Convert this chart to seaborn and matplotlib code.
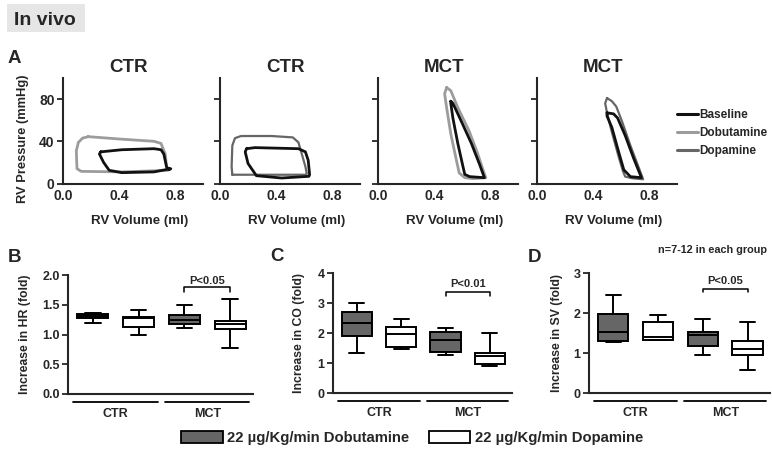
import numpy as np
import pandas as pd
import matplotlib
matplotlib.use("Agg")
import matplotlib.pyplot as plt
import seaborn as sns
from matplotlib.lines import Line2D
from matplotlib.patches import Patch, Rectangle

# Panel A: pressure-volume loops (volume ml, pressure mmHg)
ctr1_base_vol = [0.27, 0.42, 0.65, 0.70, 0.72, 0.74, 0.76, 0.77, 0.65, 0.42, 0.33, 0.29, 0.26]
ctr1_base_pres = [30, 32, 33, 32, 28, 15.6, 13.4, 14, 11, 10.3, 12.5, 20, 28]
ctr1_dobu_vol = [0.18, 0.42, 0.65, 0.70, 0.73, 0.74, 0.75, 0.42, 0.13, 0.10, 0.095, 0.11, 0.14]
ctr1_dobu_pres = [44.4, 42, 40, 38, 28, 15.6, 12.5, 11, 11.5, 14, 31, 39, 43]

ctr2_base_vol = [0.19, 0.25, 0.56, 0.61, 0.63, 0.64, 0.635, 0.44, 0.26, 0.20, 0.18]
ctr2_base_pres = [33, 34, 33, 30, 22, 8.3, 6.8, 5.2, 7.4, 19, 30]
ctr2_dopa_vol = [0.088, 0.61, 0.62, 0.61, 0.58, 0.56, 0.52, 0.37, 0.15, 0.107, 0.088, 0.083]
ctr2_dopa_pres = [8.3, 8.3, 9.2, 16, 30, 39, 43.7, 45, 45, 43, 36, 16]

mct1_base_vol = [0.52, 0.535, 0.595, 0.667, 0.726, 0.76, 0.655, 0.62, 0.607, 0.57, 0.535, 0.52]
mct1_base_pres = [78, 76, 59, 38, 18, 5.5, 6.5, 8.6, 16, 38, 62, 76]
mct1_dobu_vol = [0.49, 0.52, 0.57, 0.65, 0.71, 0.75, 0.77, 0.68, 0.62, 0.58, 0.56, 0.52, 0.49, 0.476]
mct1_dobu_pres = [91, 88, 72, 50, 29, 13, 5.5, 4.6, 5.5, 10, 22, 47, 72, 85]

mct2_base_vol = [0.50, 0.547, 0.576, 0.63, 0.69, 0.746, 0.667, 0.62, 0.583, 0.535, 0.50]
mct2_base_pres = [67, 66, 62, 45.5, 24, 5.5, 6.5, 13, 30, 53, 64]
mct2_dopa_vol = [0.50, 0.535, 0.566, 0.607, 0.667, 0.727, 0.758, 0.68, 0.63, 0.614, 0.583, 0.535, 0.50, 0.487]
mct2_dopa_pres = [81, 78, 73, 59, 36, 15, 4, 5, 6.5, 11.7, 25.5, 48.6, 67, 76]

panel_titles = ["CTR", "CTR", "MCT", "MCT"]
loop_names = ["Baseline", "Dobutamine", "Dopamine"]

# Panels B-D: five-number summaries (min, Q1, median, Q3, max) per box
# box order: CTR dobutamine, CTR dopamine, MCT dobutamine, MCT dopamine
groups = ["CTR", "MCT"]
drugs = ["22 µg/Kg/min Dobutamine", "22 µg/Kg/min Dopamine"]
hr_stats = [[1.20, 1.27, 1.31, 1.34, 1.36], [1.00, 1.12, 1.28, 1.30, 1.42],
            [1.11, 1.18, 1.24, 1.33, 1.49], [0.78, 1.10, 1.17, 1.23, 1.60]]
co_stats = [[1.32, 1.91, 2.34, 2.69, 2.99], [1.48, 1.54, 1.96, 2.19, 2.47],
            [1.26, 1.36, 1.77, 2.02, 2.18], [0.89, 0.97, 1.24, 1.35, 2.01]]
sv_stats = [[1.27, 1.29, 1.52, 1.98, 2.46], [1.32, 1.33, 1.40, 1.78, 1.96],
            [0.95, 1.17, 1.46, 1.52, 1.86], [0.57, 0.95, 1.11, 1.31, 1.77]]
p_labels = ["P<0.05", "P<0.01", "P<0.05"]

sns.set_style("ticks")
plt.rcParams["font.family"] = ["Liberation Sans", "DejaVu Sans"]
plt.rcParams["font.weight"] = "bold"
plt.rcParams["axes.labelweight"] = "bold"
plt.rcParams["axes.linewidth"] = 1.5
plt.rcParams["xtick.major.width"] = 1.3
plt.rcParams["ytick.major.width"] = 1.3

W, H = 772, 449
fig = plt.figure(figsize=(W / 100, H / 100), dpi=100)


def px_axes(left, top, right, bottom):
    return fig.add_axes([left / W, 1 - bottom / H, (right - left) / W, (bottom - top) / H])


colors = {"Baseline": "#111111", "Dobutamine": "#9c9c9c", "Dopamine": "#666666"}
widths = {"Baseline": 2.0, "Dobutamine": 2.0, "Dopamine": 1.6}

loops = [
    [("Dobutamine", ctr1_dobu_vol, ctr1_dobu_pres), ("Baseline", ctr1_base_vol, ctr1_base_pres)],
    [("Dopamine", ctr2_dopa_vol, ctr2_dopa_pres), ("Baseline", ctr2_base_vol, ctr2_base_pres)],
    [("Dobutamine", mct1_dobu_vol, mct1_dobu_pres), ("Baseline", mct1_base_vol, mct1_base_pres)],
    [("Dopamine", mct2_dopa_vol, mct2_dopa_pres), ("Baseline", mct2_base_vol, mct2_base_pres)],
]

top_lefts = [63, 220, 378, 537]
for i, left in enumerate(top_lefts):
    ax = px_axes(left, 78, left + 140, 183.5)
    for name, vol, pres in loops[i]:
        sns.lineplot(x=np.r_[vol, vol[0]], y=np.r_[pres, pres[0]], sort=False, estimator=None,
                     color=colors[name], linewidth=widths[name], ax=ax)
    ax.set_xlim(0, 1.0)
    ax.set_ylim(0, 100)
    ax.set_xticks([0, 0.4, 0.8])
    ax.set_xticklabels(["0.0", "0.4", "0.8"])
    ax.set_yticks([0, 40, 80])
    ax.tick_params(axis="x", length=0, labelsize=10, pad=4)
    ax.tick_params(axis="y", length=4, labelsize=10, pad=2)
    if i > 0:
        ax.set_yticklabels([])
        ax.set_ylabel("")
    else:
        ax.set_ylabel("RV Pressure (mmHg)", fontsize=9.3)
        ax.yaxis.set_label_coords(-0.24, 0.42)
    ax.set_xlabel("RV Volume (ml)", fontsize=9.6)
    ax.xaxis.set_label_coords(0.545, -0.30)
    ax.set_title(panel_titles[i], fontsize=13.5, fontweight="bold", x=0.47, pad=4)
    sns.despine(ax=ax)

handles = [Line2D([], [], color=colors[n], linewidth=2.2) for n in loop_names]
fig.legend(handles, loop_names, loc="upper left", bbox_to_anchor=(677 / W, 1 - 109 / H),
           frameon=False, fontsize=8.5, handlelength=1.75, handletextpad=0.15,
           labelspacing=0.5, borderpad=0, borderaxespad=0)

# Panels B-D
panels = [
    (hr_stats, "Increase in HR (fold)", (68, 275, 253, 394), [0, 0.5, 1.0, 1.5, 2.0], "%.1f", 2.0,
     -0.2, (1.79, 1.72, 1.90)),
    (co_stats, "Increase in CO (fold)", (333, 273, 512, 393), [0, 1, 2, 3, 4], "%d", 4,
     -0.155, (3.37, 3.24, 3.62)),
    (sv_stats, "Increase in SV (fold)", (589, 273, 770, 393), [0, 1, 2, 3], "%d", 3,
     -0.145, (2.61, 2.52, 2.80)),
]
box_palette = {drugs[0]: "#666666", drugs[1]: "white"}

for k, (stats, ylabel, box, yt, fmt, ytop, ylab_x, brk) in enumerate(panels):
    ax = px_axes(*box)
    rows = []
    for j, s in enumerate(stats):
        for v in s:
            rows.append({"group": groups[j // 2], "drug": drugs[j % 2], "value": v})
    df = pd.DataFrame(rows)
    sns.boxplot(data=df, x="group", y="value", hue="drug", order=groups, hue_order=drugs,
                palette=box_palette, width=1.0, gap=0.32, whis=(0, 100), linecolor="black",
                linewidth=1.4, fliersize=0, legend=False, ax=ax,
                medianprops={"color": "black", "linewidth": 1.4})
    ax.set_xlim(-0.52, 1.5)
    ax.set_ylim(0, ytop)
    ax.set_yticks(yt)
    ax.set_yticklabels([fmt % t for t in yt])
    ax.tick_params(axis="y", length=4, labelsize=9, pad=2)
    ax.tick_params(axis="x", length=0, labelsize=9, pad=10)
    ax.set_xlabel("")
    ax.set_ylabel(ylabel, fontsize=8.8)
    ax.yaxis.set_label_coords(ylab_x, 0.5)
    sns.despine(ax=ax)
    trans = ax.get_xaxis_transform()
    for g in range(len(groups)):
        ax.plot([g - 0.46, g + 0.46], [-0.067, -0.067], transform=trans, color="black",
                linewidth=1.3, clip_on=False)
    y_line, y_tick, y_text = brk
    ax.plot([0.75, 0.75, 1.25, 1.25], [y_tick, y_line, y_line, y_tick], color="black",
            linewidth=1.1)
    ax.text(1.0, y_text, p_labels[k], ha="center", va="center", fontsize=8,
            fontweight="bold")

fig.text(767 / W, 1 - 253 / H, "n=7-12 in each group", ha="right", va="baseline",
         fontsize=7.8, fontweight="bold")

leg_handles = [Patch(facecolor=box_palette[d], edgecolor="black", linewidth=1.3) for d in drugs]
fig.legend(leg_handles, drugs, loc="lower left", bbox_to_anchor=(181 / W, 4 / H), ncol=2,
           frameon=False, fontsize=10.7, handlelength=2.8, handleheight=0.8,
           handletextpad=0.3, columnspacing=1.3, borderpad=0, borderaxespad=0)

# header and panel letters
fig.patches.append(Rectangle((7 / W, 1 - 32 / H), 78 / W, 28 / H, transform=fig.transFigure,
                             facecolor="#e6e6e6", edgecolor="none", zorder=0))
fig.text(14 / W, 1 - 25 / H, "In vivo", fontsize=14, fontweight="bold", va="baseline")
for letter, x, y in [("A", 8, 63), ("B", 8, 262), ("C", 270, 261), ("D", 528, 262)]:
    fig.text(x / W, 1 - y / H, letter, fontsize=13.5, fontweight="bold", va="baseline")

fig.savefig("out.png", dpi=100)
